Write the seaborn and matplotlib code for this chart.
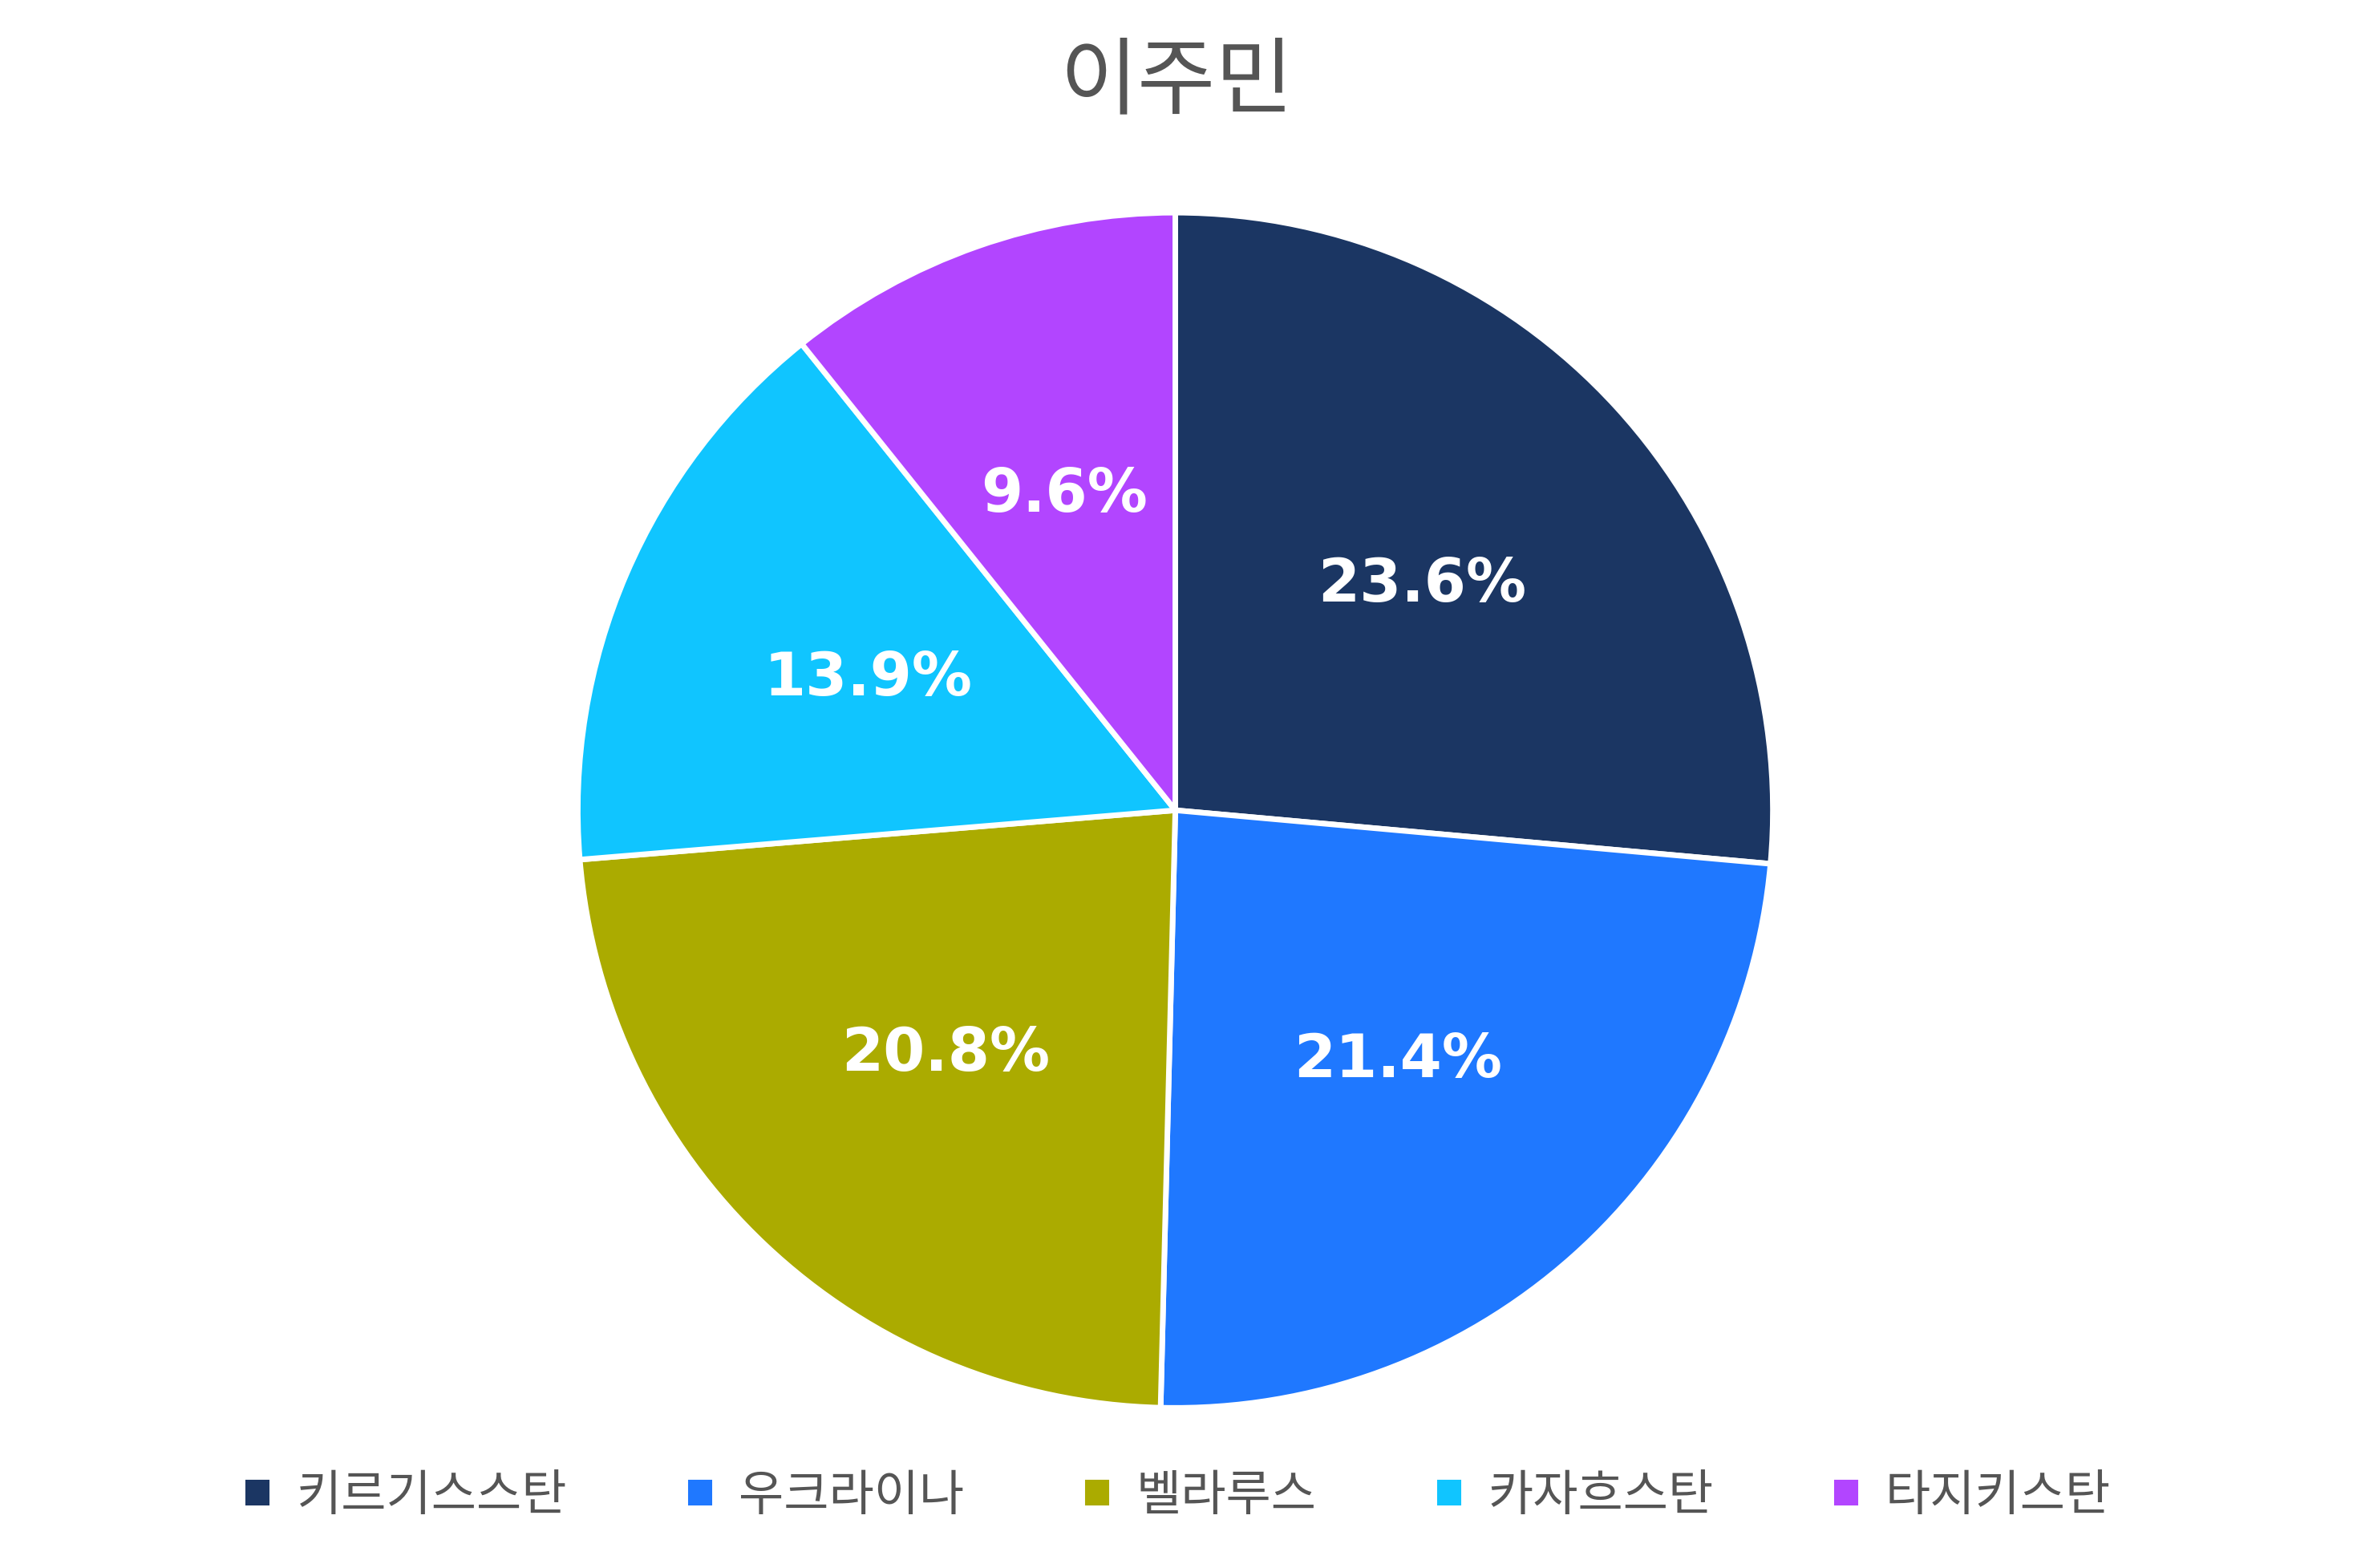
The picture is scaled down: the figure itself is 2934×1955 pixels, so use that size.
import matplotlib
matplotlib.use("Agg")
import matplotlib.pyplot as plt
import seaborn as sns

categories = ["키르기스스탄", "우크라이나", "벨라루스", "카자흐스탄", "타지키스탄"]
values = [23.6, 21.4, 20.8, 13.9, 9.6]
colors = ["#1B3663", "#1F78FF", "#ABAB00", "#10C5FF", "#B245FF"]

sns.set_theme(style="white")
palette = sns.color_palette(colors)
kr = "Noto Sans CJK KR"

fig = plt.figure(figsize=(14.67, 9.78), dpi=200)
ax = fig.add_axes([0.243, 0.098, 0.513, 0.77])
wedges, texts, autotexts = ax.pie(values, colors=palette, startangle=90, counterclock=False,
                                  autopct="%1.1f%%", pctdistance=0.56,
                                  wedgeprops=dict(edgecolor="white", linewidth=2.5))
for t, v in zip(autotexts, values):
    t.set_text(f"{v:.1f}%")
    t.set_color("white")
    t.set_fontsize(27)
    t.set_fontweight("bold")
    t.set_fontfamily("DejaVu Sans")
ax.set_xlim(-1.01, 1.01)
ax.set_ylim(-1.01, 1.01)
ax.set_aspect("equal")
fig.suptitle("이주민", y=0.975, fontsize=38, color="#555555", fontfamily=kr)
leg = fig.legend(wedges, categories, loc="center", bbox_to_anchor=(0.5, 0.046), ncol=5,
                 frameon=False, prop={"family": kr, "size": 22}, handlelength=0.6,
                 handleheight=0.6, columnspacing=2.4, handletextpad=0.5)
for t in leg.get_texts():
    t.set_color("#555555")
fig.savefig("out.png", dpi=200)
